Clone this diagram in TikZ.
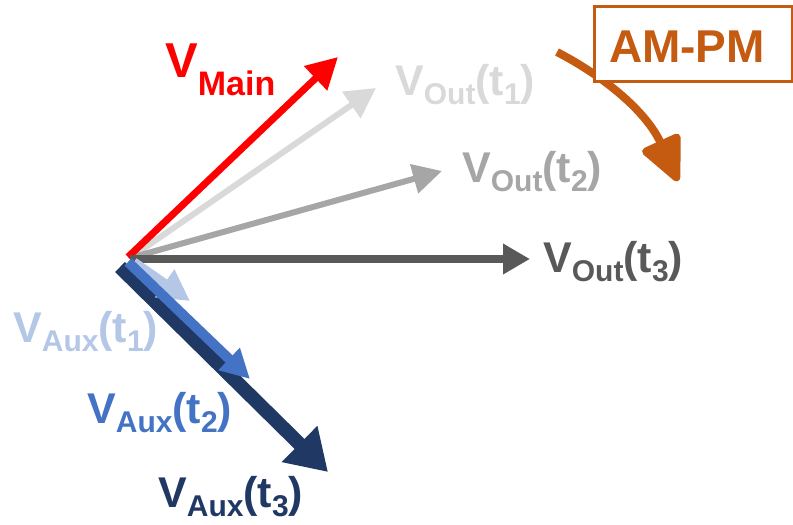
\documentclass[tikz,border=0pt]{standalone}
\usepackage{fontspec}
\setmainfont{Liberation Sans}
\usetikzlibrary{arrows.meta}
\definecolor{cMain}{HTML}{FF0000}
\definecolor{cOutA}{HTML}{D9D9D9}
\definecolor{cOutB}{HTML}{A6A6A6}
\definecolor{cOutC}{HTML}{595959}
\definecolor{cAuxA}{HTML}{B4C7E7}
\definecolor{cAuxB}{HTML}{4472C4}
\definecolor{cAuxC}{HTML}{203864}
\definecolor{cAM}{HTML}{C55A11}
\newcommand\mysub[2][9pt]{\raisebox{-#1}{\fontsize{30}{30}\selectfont #2}}
\newcommand\lbl[2]{{\fontsize{43}{43}\selectfont V\mysub{#1}(t\mysub{#2})}}
\begin{document}
\begin{tikzpicture}[x=1pt,y=-1pt,
  vec/.style={line cap=butt},
  lab/.style={anchor=base west, inner sep=0pt, font=\bfseries}]
\useasboundingbox (0,0) rectangle (793,525);
% coordinates
\coordinate (oMain) at (128,257);
\coordinate (oOut) at (130,258);
\coordinate (oOutC) at (130,259);
\coordinate (oAuxA) at (134,262);
\coordinate (oAuxB) at (128,262);
\coordinate (oAuxC) at (120,267);
\coordinate (tMain) at (338,57);
\coordinate (tOutA) at (376,88);
\coordinate (tOutB) at (442,171);
\coordinate (tOutC) at (530,259);
\coordinate (tAuxA) at (190,301);
\coordinate (tAuxB) at (250,379);
\coordinate (tAuxC) at (328,472);
\coordinate (amS) at (557,52);
\coordinate (amE) at (678,181);
% output vectors
\draw[vec, draw=cOutA, line width=6pt, -{Triangle[length=30pt,width=31pt]}] (oOut) -- (tOutA);
\draw[vec, draw=cOutB, line width=6pt, -{Triangle[length=29pt,width=29pt]}] (oOut) -- (tOutB);
\draw[vec, draw=cMain, line width=7pt, -{Triangle[length=31pt,width=32pt]}] (oMain) -- (tMain);
\draw[vec, draw=cOutC, line width=8pt, -{Triangle[length=27pt,width=29pt]}] (oOutC) -- (tOutC);
% aux vectors
\draw[vec, draw=cAuxC, line width=14pt, -{Triangle[length=40pt,width=48pt]}] (oAuxC) -- (tAuxC);
\draw[vec, draw=cAuxA, line width=9pt, -{Triangle[length=31pt,width=32pt]}] (oAuxA) -- (tAuxA);
\draw[vec, draw=cAuxB, line width=10pt, -{Triangle[length=29pt,width=29pt]}] (oAuxB) -- (tAuxB);
% AM-PM arrow and box
\draw[draw=cAM, line width=8pt, -{Triangle[round,length=50pt,width=44pt]}] (amS) .. controls (607,78) and (647,113) .. (amE);
\node[draw=cAM, fill=white, line width=3pt, minimum width=198pt, minimum height=75pt, anchor=north west, inner sep=0pt] (ambox) at (593,5) {};
\node[anchor=base, inner sep=0pt, font=\bfseries\fontsize{46}{46}\selectfont, text=cAM] (amtxt) at (687,62) {AM-PM};
% labels
\node[lab, text=cMain] (lMain) at (165,77) {{\fontsize{49}{49}\selectfont V\raisebox{-18pt}{\fontsize{34}{34}\selectfont Main}}};
\node[lab, text=cOutA] (lOutA) at (395,95) {\lbl{Out}{1}};
\node[lab, text=cOutB] (lOutB) at (462,182) {\lbl{Out}{2}};
\node[lab, text=cOutC] (lOutC) at (543,272) {\lbl{Out}{3}};
\node[lab, text=cAuxA] (lAuxA) at (13,342) {\lbl{Aux}{1}};
\node[lab, text=cAuxB] (lAuxB) at (87,423) {\lbl{Aux}{2}};
\node[lab, text=cAuxC] (lAuxC) at (158,507) {\lbl{Aux}{3}};
\end{tikzpicture}
\end{document}
